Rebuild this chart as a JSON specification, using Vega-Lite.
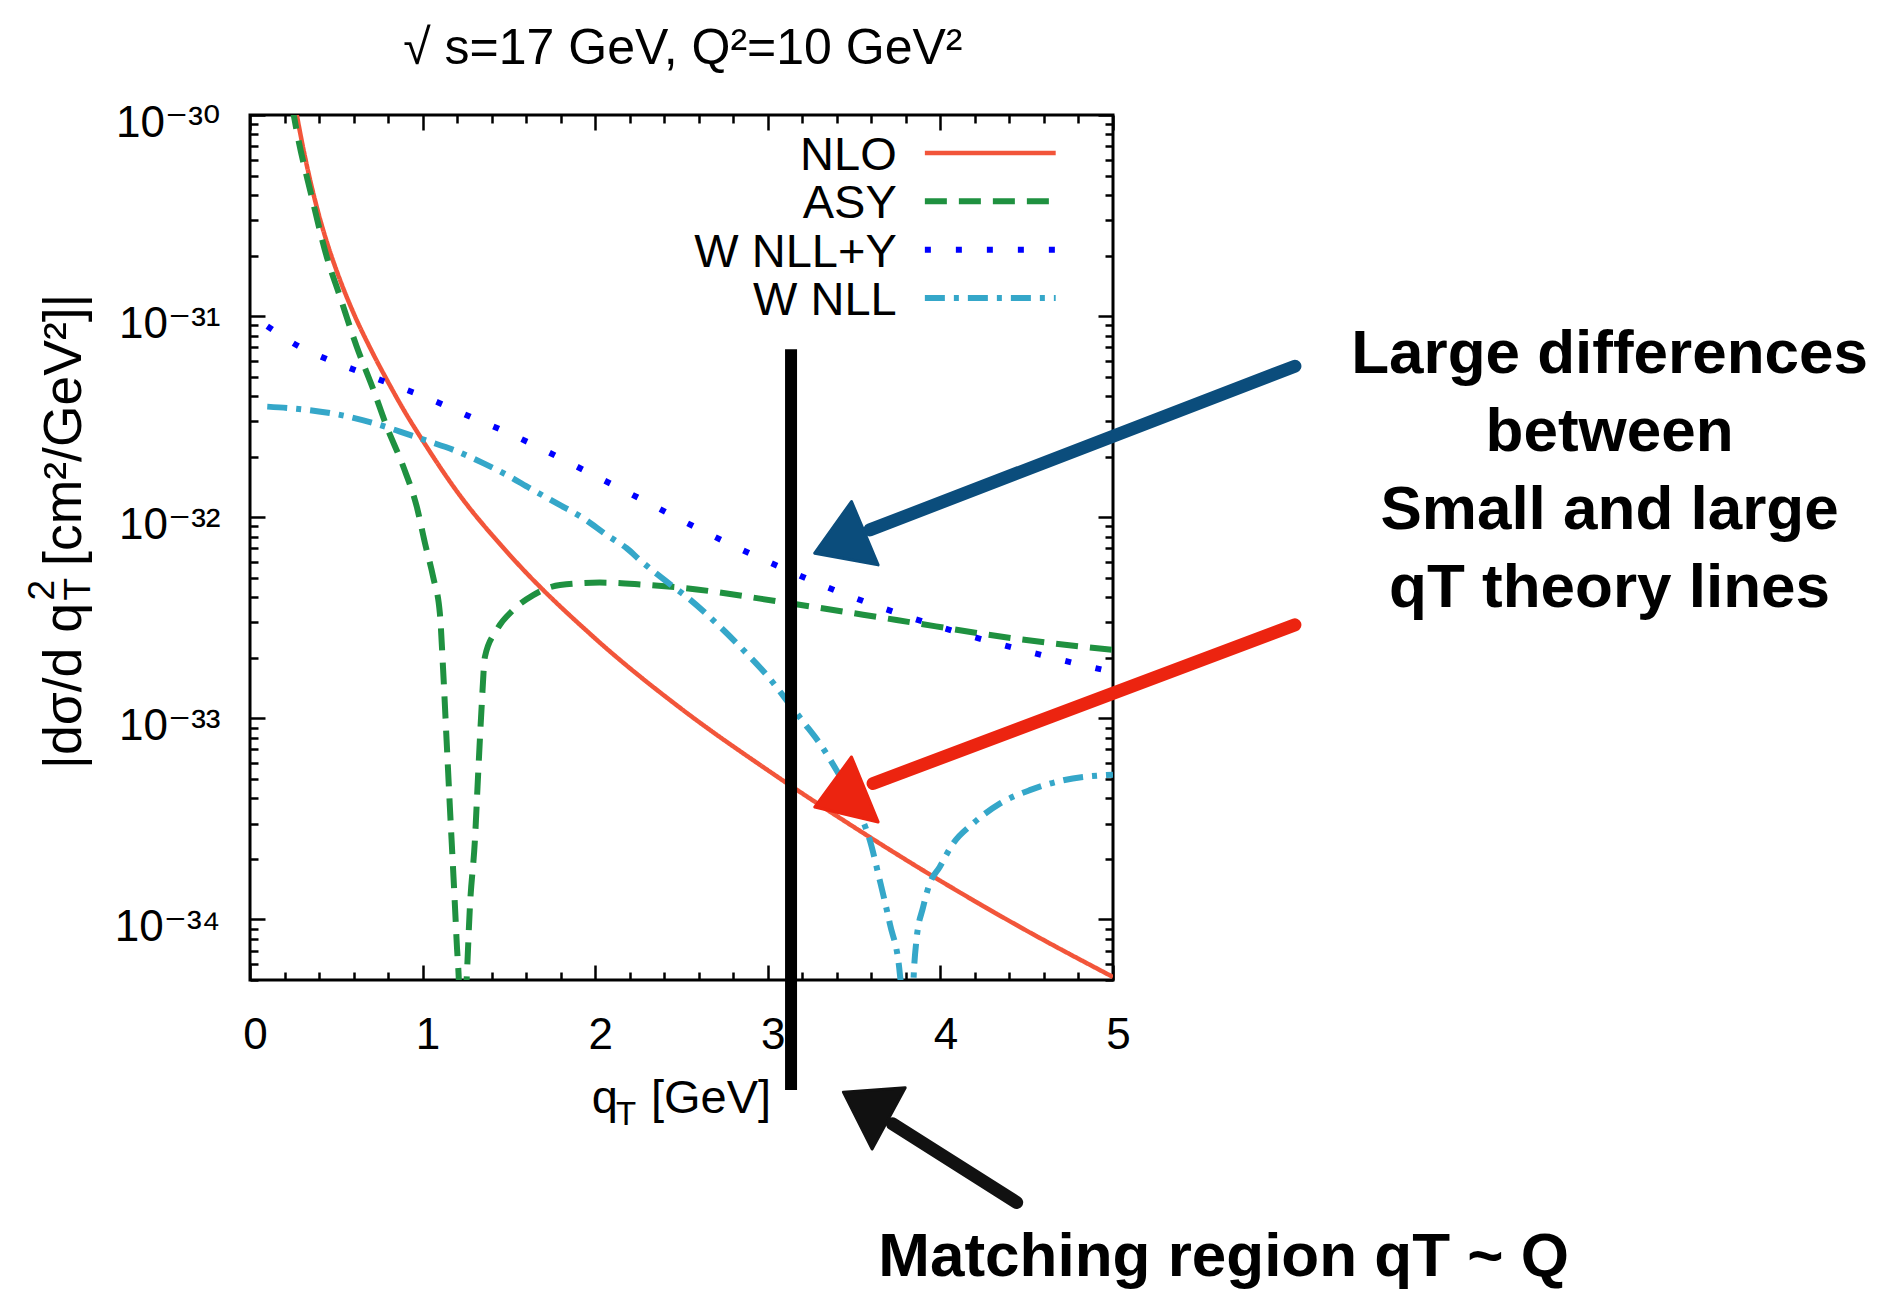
{
  "$schema": "https://vega.github.io/schema/vega-lite/v6.json",
  "width": 863,
  "height": 865,
  "autosize": {"type": "none"},
  "padding": {"left": 250, "top": 115, "right": 771, "bottom": 311},
  "background": "white",
  "config": {
    "view": {"stroke": "black", "strokeWidth": 3},
    "font": "Liberation Sans, DejaVu Sans",
    "axis": {
      "domain": false,
      "grid": false,
      "tickColor": "black",
      "tickWidth": 2.5,
      "labelFont": "Liberation Sans, DejaVu Sans",
      "labelFontSize": 44,
      "labelColor": "black",
      "labelOverlap": false,
      "labelFlush": false,
      "labelBound": false
    }
  },
  "datasets": {
    "curves": [
      {"series": "NLO", "qT": 0.25, "sigma": 1.259e-30},
      {"series": "NLO", "qT": 0.3, "sigma": 7.413e-31},
      {"series": "NLO", "qT": 0.35, "sigma": 4.677e-31},
      {"series": "NLO", "qT": 0.4, "sigma": 3.162e-31},
      {"series": "NLO", "qT": 0.45, "sigma": 2.265e-31},
      {"series": "NLO", "qT": 0.5, "sigma": 1.698e-31},
      {"series": "NLO", "qT": 0.6, "sigma": 1.035e-31},
      {"series": "NLO", "qT": 0.7, "sigma": 6.839e-32},
      {"series": "NLO", "qT": 0.8, "sigma": 4.699e-32},
      {"series": "NLO", "qT": 0.9, "sigma": 3.311e-32},
      {"series": "NLO", "qT": 1.0, "sigma": 2.41e-32},
      {"series": "NLO", "qT": 1.2, "sigma": 1.34e-32},
      {"series": "NLO", "qT": 1.5, "sigma": 6.561e-33},
      {"series": "NLO", "qT": 2.0, "sigma": 2.495e-33},
      {"series": "NLO", "qT": 2.5, "sigma": 1.114e-33},
      {"series": "NLO", "qT": 3.0, "sigma": 5.521e-34},
      {"series": "NLO", "qT": 3.5, "sigma": 2.877e-34},
      {"series": "NLO", "qT": 4.0, "sigma": 1.556e-34},
      {"series": "NLO", "qT": 4.5, "sigma": 8.79e-35},
      {"series": "NLO", "qT": 5.0, "sigma": 5.176e-35},

      {"series": "ASY", "qT": 0.245, "sigma": 1.096e-30},
      {"series": "ASY", "qT": 0.275, "sigma": 7.943e-31},
      {"series": "ASY", "qT": 0.357, "sigma": 3.945e-31},
      {"series": "ASY", "qT": 0.444, "sigma": 1.982e-31},
      {"series": "ASY", "qT": 0.521, "sigma": 1.253e-31},
      {"series": "ASY", "qT": 0.618, "sigma": 7.063e-32},
      {"series": "ASY", "qT": 0.715, "sigma": 4.305e-32},
      {"series": "ASY", "qT": 0.792, "sigma": 2.825e-32},
      {"series": "ASY", "qT": 0.888, "sigma": 1.786e-32},
      {"series": "ASY", "qT": 0.966, "sigma": 1.13e-32},
      {"series": "ASY", "qT": 1.014, "sigma": 7.413e-33},
      {"series": "ASY", "qT": 1.062, "sigma": 5.012e-33},
      {"series": "ASY", "qT": 1.1, "sigma": 3.327e-33},
      {"series": "ASY", "qT": 1.12, "sigma": 1.671e-33},
      {"series": "ASY", "qT": 1.139, "sigma": 7.78e-34},
      {"series": "ASY", "qT": 1.158, "sigma": 3.631e-34},
      {"series": "ASY", "qT": 1.178, "sigma": 1.69e-34},
      {"series": "ASY", "qT": 1.197, "sigma": 7.87e-35},
      {"series": "ASY", "qT": 1.215, "sigma": 3.548e-35},
      {"series": "ASY", "qT": 1.23, "sigma": 3.162e-36},
      {"series": "ASY", "qT": 1.245, "sigma": 3.548e-35},
      {"series": "ASY", "qT": 1.255, "sigma": 5.012e-35},
      {"series": "ASY", "qT": 1.274, "sigma": 1.153e-34},
      {"series": "ASY", "qT": 1.303, "sigma": 2.477e-34},
      {"series": "ASY", "qT": 1.322, "sigma": 5.321e-34},
      {"series": "ASY", "qT": 1.342, "sigma": 1.14e-33},
      {"series": "ASY", "qT": 1.361, "sigma": 2.023e-33},
      {"series": "ASY", "qT": 1.429, "sigma": 2.748e-33},
      {"series": "ASY", "qT": 1.525, "sigma": 3.459e-33},
      {"series": "ASY", "qT": 1.641, "sigma": 4.102e-33},
      {"series": "ASY", "qT": 1.796, "sigma": 4.603e-33},
      {"series": "ASY", "qT": 2.027, "sigma": 4.732e-33},
      {"series": "ASY", "qT": 2.259, "sigma": 4.634e-33},
      {"series": "ASY", "qT": 2.491, "sigma": 4.467e-33},
      {"series": "ASY", "qT": 3.128, "sigma": 3.733e-33},
      {"series": "ASY", "qT": 3.746, "sigma": 3.083e-33},
      {"series": "ASY", "qT": 4.421, "sigma": 2.5e-33},
      {"series": "ASY", "qT": 5.0, "sigma": 2.188e-33},

      {"series": "W NLL+Y", "qT": 0.1, "sigma": 8.913e-32},
      {"series": "W NLL+Y", "qT": 0.29, "sigma": 7.015e-32},
      {"series": "W NLL+Y", "qT": 0.454, "sigma": 6.067e-32},
      {"series": "W NLL+Y", "qT": 0.628, "sigma": 5.309e-32},
      {"series": "W NLL+Y", "qT": 0.792, "sigma": 4.677e-32},
      {"series": "W NLL+Y", "qT": 0.966, "sigma": 4.111e-32},
      {"series": "W NLL+Y", "qT": 1.129, "sigma": 3.597e-32},
      {"series": "W NLL+Y", "qT": 1.293, "sigma": 3.112e-32},
      {"series": "W NLL+Y", "qT": 1.467, "sigma": 2.692e-32},
      {"series": "W NLL+Y", "qT": 1.631, "sigma": 2.317e-32},
      {"series": "W NLL+Y", "qT": 1.79, "sigma": 1.982e-32},
      {"series": "W NLL+Y", "qT": 1.95, "sigma": 1.687e-32},
      {"series": "W NLL+Y", "qT": 2.114, "sigma": 1.432e-32},
      {"series": "W NLL+Y", "qT": 2.274, "sigma": 1.219e-32},
      {"series": "W NLL+Y", "qT": 2.433, "sigma": 1.035e-32},
      {"series": "W NLL+Y", "qT": 2.761, "sigma": 7.482e-33},
      {"series": "W NLL+Y", "qT": 3.089, "sigma": 5.572e-33},
      {"series": "W NLL+Y", "qT": 3.417, "sigma": 4.236e-33},
      {"series": "W NLL+Y", "qT": 3.755, "sigma": 3.327e-33},
      {"series": "W NLL+Y", "qT": 4.099, "sigma": 2.679e-33},
      {"series": "W NLL+Y", "qT": 4.45, "sigma": 2.213e-33},
      {"series": "W NLL+Y", "qT": 4.798, "sigma": 1.862e-33},
      {"series": "W NLL+Y", "qT": 5.0, "sigma": 1.698e-33},

      {"series": "W NLL", "qT": 0.1, "sigma": 3.548e-32},
      {"series": "W NLL", "qT": 0.328, "sigma": 3.42e-32},
      {"series": "W NLL", "qT": 0.521, "sigma": 3.228e-32},
      {"series": "W NLL", "qT": 0.715, "sigma": 2.938e-32},
      {"series": "W NLL", "qT": 0.869, "sigma": 2.667e-32},
      {"series": "W NLL", "qT": 1.023, "sigma": 2.404e-32},
      {"series": "W NLL", "qT": 1.178, "sigma": 2.163e-32},
      {"series": "W NLL", "qT": 1.351, "sigma": 1.858e-32},
      {"series": "W NLL", "qT": 1.486, "sigma": 1.626e-32},
      {"series": "W NLL", "qT": 1.622, "sigma": 1.393e-32},
      {"series": "W NLL", "qT": 1.776, "sigma": 1.175e-32},
      {"series": "W NLL", "qT": 1.931, "sigma": 9.886e-33},
      {"series": "W NLL", "qT": 2.066, "sigma": 8.166e-33},
      {"series": "W NLL", "qT": 2.182, "sigma": 7.015e-33},
      {"series": "W NLL", "qT": 2.259, "sigma": 6.124e-33},
      {"series": "W NLL", "qT": 2.452, "sigma": 4.519e-33},
      {"series": "W NLL", "qT": 2.529, "sigma": 4.027e-33},
      {"series": "W NLL", "qT": 2.703, "sigma": 2.965e-33},
      {"series": "W NLL", "qT": 2.877, "sigma": 2.104e-33},
      {"series": "W NLL", "qT": 3.002, "sigma": 1.611e-33},
      {"series": "W NLL", "qT": 3.108, "sigma": 1.233e-33},
      {"series": "W NLL", "qT": 3.205, "sigma": 9.616e-34},
      {"series": "W NLL", "qT": 3.301, "sigma": 7.499e-34},
      {"series": "W NLL", "qT": 3.398, "sigma": 5.521e-34},
      {"series": "W NLL", "qT": 3.514, "sigma": 3.631e-34},
      {"series": "W NLL", "qT": 3.591, "sigma": 2.477e-34},
      {"series": "W NLL", "qT": 3.649, "sigma": 1.563e-34},
      {"series": "W NLL", "qT": 3.707, "sigma": 9.528e-35},
      {"series": "W NLL", "qT": 3.765, "sigma": 5.37e-35},
      {"series": "W NLL", "qT": 3.79, "sigma": 2.818e-35},
      {"series": "W NLL", "qT": 3.815, "sigma": 3.162e-36},
      {"series": "W NLL", "qT": 3.84, "sigma": 3.981e-35},
      {"series": "W NLL", "qT": 3.861, "sigma": 7.87e-35},
      {"series": "W NLL", "qT": 3.9, "sigma": 1.153e-34},
      {"series": "W NLL", "qT": 3.938, "sigma": 1.507e-34},
      {"series": "W NLL", "qT": 3.996, "sigma": 1.824e-34},
      {"series": "W NLL", "qT": 4.073, "sigma": 2.382e-34},
      {"series": "W NLL", "qT": 4.189, "sigma": 2.999e-34},
      {"series": "W NLL", "qT": 4.344, "sigma": 3.767e-34},
      {"series": "W NLL", "qT": 4.518, "sigma": 4.395e-34},
      {"series": "W NLL", "qT": 4.711, "sigma": 4.92e-34},
      {"series": "W NLL", "qT": 5.0, "sigma": 5.248e-34}
    ],
    "shafts": [
      {"arrow": "upper", "k": 0, "qT": 6.054, "sigma": 5.636e-32},
      {"arrow": "upper", "k": 1, "qT": 3.591, "sigma": 8.65e-33},
      {"arrow": "lower", "k": 0, "qT": 6.054, "sigma": 2.917e-33},
      {"arrow": "lower", "k": 1, "qT": 3.61, "sigma": 4.742e-34},
      {"arrow": "matching", "k": 0, "qT": 4.442, "sigma": 3.917e-36},
      {"arrow": "matching", "k": 1, "qT": 3.722, "sigma": 9.638e-36}
    ],
    "heads": [
      {"arrow": "upper", "k": 0, "qT": 3.485, "sigma": 1.197e-32},
      {"arrow": "upper", "k": 1, "qT": 3.272, "sigma": 6.622e-33},
      {"arrow": "upper", "k": 2, "qT": 3.639, "sigma": 5.794e-33},
      {"arrow": "lower", "k": 0, "qT": 3.485, "sigma": 6.427e-34},
      {"arrow": "lower", "k": 1, "qT": 3.272, "sigma": 3.622e-34},
      {"arrow": "lower", "k": 2, "qT": 3.639, "sigma": 3.055e-34},
      {"arrow": "matching", "k": 0, "qT": 3.438, "sigma": 1.384e-35},
      {"arrow": "matching", "k": 1, "qT": 3.796, "sigma": 1.455e-35},
      {"arrow": "matching", "k": 2, "qT": 3.604, "sigma": 7.228e-36}
    ],
    "notes": [
      {"note": "Large differences\nbetween\nSmall and large\nqT theory lines", "qT": 7.877, "sigma": 5.215e-32},
      {"note": "Matching region qT ~ Q", "qT": 5.641, "sigma": 1.687e-36}
    ],
    "legend": [
      {"series": "NLO"},
      {"series": "ASY"},
      {"series": "W NLL+Y"},
      {"series": "W NLL"}
    ]
  },
  "resolve": {
    "scale": {"y": "independent"},
    "axis": {"x": "independent", "y": "independent"}
  },
  "layer": [
    {
      "resolve": {"axis": {"x": "independent", "y": "independent"}},
      "layer": [
        {
          "data": {"name": "curves"},
          "mark": {"type": "line", "clip": true, "interpolate": "monotone", "strokeCap": "butt"},
          "encoding": {
            "x": {
              "field": "qT", "type": "quantitative",
              "scale": {"domain": [0, 5], "nice": false, "zero": false},
              "axis": {
                "orient": "bottom", "title": null,
                "values": [0,0.2,0.4,0.6,0.8,1,1.2,1.4,1.6,1.8,2,2.2,2.4,2.6,2.8,3,3.2,3.4,3.6,3.8,4,4.2,4.4,4.6,4.8,5],
                "labelExpr": "abs(datum.value - round(datum.value)) < 0.001 ? '' + round(datum.value) : ''",
                "tickSize": {"condition": {"test": "abs(datum.value - round(datum.value)) < 0.001", "value": -15}, "value": -8},
                "labelPadding": 48,
                "labelOffset": 5
              }
            },
            "y": {
              "field": "sigma", "type": "quantitative",
              "scale": {"type": "log", "domain": [5e-35, 1e-30], "nice": false},
              "axis": {
                "orient": "left", "title": null,
                "values": [5e-35,6e-35,7e-35,8e-35,9e-35,1e-34,2e-34,3e-34,4e-34,5e-34,6e-34,7e-34,8e-34,9e-34,1e-33,2e-33,3e-33,4e-33,5e-33,6e-33,7e-33,8e-33,9e-33,1e-32,2e-32,3e-32,4e-32,5e-32,6e-32,7e-32,8e-32,9e-32,1e-31,2e-31,3e-31,4e-31,5e-31,6e-31,7e-31,8e-31,9e-31,1e-30],
                "labelExpr": "abs(log(datum.value)/LN10 + 30) < 0.001 ? '10⁻³⁰' : abs(log(datum.value)/LN10 + 31) < 0.001 ? '10⁻³¹' : abs(log(datum.value)/LN10 + 32) < 0.001 ? '10⁻³²' : abs(log(datum.value)/LN10 + 33) < 0.001 ? '10⁻³³' : abs(log(datum.value)/LN10 + 34) < 0.001 ? '10⁻³⁴' : ''",
                "tickSize": {"condition": {"test": "abs(log(datum.value)/LN10 - round(log(datum.value)/LN10)) < 0.001", "value": -15}, "value": -8},
                "labelPadding": 45,
                "labelOffset": 8,
                "labelBaseline": "middle"
              }
            },
            "color": {
              "field": "series", "type": "nominal",
              "scale": {"domain": ["NLO", "ASY", "W NLL+Y", "W NLL"], "range": ["#f2553a", "#1f9140", "#0000ff", "#35a7c9"]},
              "legend": null
            },
            "strokeDash": {
              "field": "series", "type": "nominal",
              "scale": {"domain": ["NLO", "ASY", "W NLL+Y", "W NLL"], "range": [[1, 0], [22, 12], [6, 25], [20, 9, 5, 9]]},
              "legend": null
            },
            "strokeWidth": {"condition": {"test": "datum.series === 'NLO'", "value": 4.5}, "value": 6}
          }
        },
        {
          "data": {"values": [{}]},
          "mark": {"type": "rule", "color": "black", "strokeWidth": 12, "strokeCap": "butt"},
          "encoding": {
            "x": {
              "datum": 3.1347, "type": "quantitative",
              "scale": {"domain": [0, 5], "nice": false, "zero": false},
              "axis": {
                "orient": "top", "title": null, "labels": false,
                "values": [0,0.2,0.4,0.6,0.8,1,1.2,1.4,1.6,1.8,2,2.2,2.4,2.6,2.8,3,3.2,3.4,3.6,3.8,4,4.2,4.4,4.6,4.8,5],
                "tickSize": {"condition": {"test": "abs(datum.value - round(datum.value)) < 0.001", "value": -15}, "value": -8}
              }
            },
            "y": {
              "datum": 6.839e-32, "type": "quantitative",
              "scale": {"type": "log", "domain": [5e-35, 1e-30], "nice": false},
              "axis": {
                "orient": "right", "title": null, "labels": false,
                "values": [5e-35,6e-35,7e-35,8e-35,9e-35,1e-34,2e-34,3e-34,4e-34,5e-34,6e-34,7e-34,8e-34,9e-34,1e-33,2e-33,3e-33,4e-33,5e-33,6e-33,7e-33,8e-33,9e-33,1e-32,2e-32,3e-32,4e-32,5e-32,6e-32,7e-32,8e-32,9e-32,1e-31,2e-31,3e-31,4e-31,5e-31,6e-31,7e-31,8e-31,9e-31,1e-30],
                "tickSize": {"condition": {"test": "abs(log(datum.value)/LN10 - round(log(datum.value)/LN10)) < 0.001", "value": -15}, "value": -8}
              }
            },
            "y2": {"datum": 1.419e-35}
          }
        },
        {
          "data": {"name": "shafts"},
          "mark": {"type": "line", "strokeWidth": 13, "strokeCap": "round"},
          "encoding": {
            "x": {"field": "qT", "type": "quantitative", "scale": {"domain": [0, 5], "nice": false, "zero": false}, "axis": null},
            "y": {"field": "sigma", "type": "quantitative", "scale": {"type": "log", "domain": [5e-35, 1e-30], "nice": false}, "axis": null},
            "order": {"field": "k"},
            "detail": {"field": "arrow"},
            "stroke": {"field": "arrow", "type": "nominal", "scale": {"domain": ["upper", "lower", "matching"], "range": ["#0b4d7c", "#ec2410", "#111111"]}, "legend": null}
          }
        },
        {
          "data": {"name": "heads"},
          "mark": {"type": "line", "interpolate": "linear-closed", "strokeWidth": 3, "strokeJoin": "round"},
          "encoding": {
            "x": {"field": "qT", "type": "quantitative", "scale": {"domain": [0, 5], "nice": false, "zero": false}, "axis": null},
            "y": {"field": "sigma", "type": "quantitative", "scale": {"type": "log", "domain": [5e-35, 1e-30], "nice": false}, "axis": null},
            "order": {"field": "k"},
            "detail": {"field": "arrow"},
            "stroke": {"field": "arrow", "type": "nominal", "scale": {"domain": ["upper", "lower", "matching"], "range": ["#0b4d7c", "#ec2410", "#111111"]}, "legend": null},
            "fill": {"field": "arrow", "type": "nominal", "scale": {"domain": ["upper", "lower", "matching"], "range": ["#0b4d7c", "#ec2410", "#111111"]}, "legend": null}
          }
        },
        {
          "data": {"name": "notes"},
          "mark": {"type": "text", "font": "Liberation Sans, DejaVu Sans", "fontWeight": "bold", "fontSize": 62, "align": "center", "baseline": "alphabetic", "lineBreak": "\n", "lineHeight": 78, "color": "black"},
          "encoding": {
            "x": {"field": "qT", "type": "quantitative", "scale": {"domain": [0, 5], "nice": false, "zero": false}, "axis": null},
            "y": {"field": "sigma", "type": "quantitative", "scale": {"type": "log", "domain": [5e-35, 1e-30], "nice": false}, "axis": null},
            "text": {"field": "note", "type": "nominal"}
          }
        },
        {
          "data": {"values": [{}]},
          "mark": {"type": "text", "text": "√ s=17 GeV, Q²=10 GeV²", "font": "Liberation Sans, DejaVu Sans", "fontSize": 50, "align": "center", "baseline": "alphabetic", "color": "black"},
          "encoding": {
            "x": {"datum": 2.508, "type": "quantitative", "scale": {"domain": [0, 5], "nice": false, "zero": false}, "axis": null},
            "y": {"datum": 1.793e-30, "type": "quantitative", "scale": {"type": "log", "domain": [5e-35, 1e-30], "nice": false}, "axis": null}
          }
        },
        {
          "data": {"values": [{}]},
          "mark": {"type": "text", "text": "q", "font": "Liberation Sans, DejaVu Sans", "fontSize": 47, "align": "right", "baseline": "alphabetic", "color": "black"},
          "encoding": {
            "x": {"datum": 2.131, "type": "quantitative", "scale": {"domain": [0, 5], "nice": false, "zero": false}, "axis": null},
            "y": {"datum": 1.091e-35, "type": "quantitative", "scale": {"type": "log", "domain": [5e-35, 1e-30], "nice": false}, "axis": null}
          }
        },
        {
          "data": {"values": [{}]},
          "mark": {"type": "text", "text": "T", "font": "Liberation Sans, DejaVu Sans", "fontSize": 33, "align": "left", "baseline": "alphabetic", "color": "black"},
          "encoding": {
            "x": {"datum": 2.12, "type": "quantitative", "scale": {"domain": [0, 5], "nice": false, "zero": false}, "axis": null},
            "y": {"datum": 9.508e-36, "type": "quantitative", "scale": {"type": "log", "domain": [5e-35, 1e-30], "nice": false}, "axis": null}
          }
        },
        {
          "data": {"values": [{}]},
          "mark": {"type": "text", "text": "[GeV]", "font": "Liberation Sans, DejaVu Sans", "fontSize": 47, "align": "left", "baseline": "alphabetic", "color": "black"},
          "encoding": {
            "x": {"datum": 2.3226, "type": "quantitative", "scale": {"domain": [0, 5], "nice": false, "zero": false}, "axis": null},
            "y": {"datum": 1.091e-35, "type": "quantitative", "scale": {"type": "log", "domain": [5e-35, 1e-30], "nice": false}, "axis": null}
          }
        },
        {
          "data": {"values": [{}]},
          "mark": {"type": "text", "text": "|dσ/d q", "angle": 270, "font": "Liberation Sans, DejaVu Sans", "fontSize": 53.5, "align": "left", "baseline": "alphabetic", "color": "black"},
          "encoding": {
            "x": {"datum": -0.9806, "type": "quantitative", "scale": {"domain": [0, 5], "nice": false, "zero": false}, "axis": null},
            "y": {"datum": 5.601e-34, "type": "quantitative", "scale": {"type": "log", "domain": [5e-35, 1e-30], "nice": false}, "axis": null}
          }
        },
        {
          "data": {"values": [{}]},
          "mark": {"type": "text", "text": "2", "angle": 270, "font": "Liberation Sans, DejaVu Sans", "fontSize": 37, "align": "left", "baseline": "alphabetic", "color": "black"},
          "encoding": {
            "x": {"datum": -1.1352, "type": "quantitative", "scale": {"domain": [0, 5], "nice": false, "zero": false}, "axis": null},
            "y": {"datum": 3.85e-33, "type": "quantitative", "scale": {"type": "log", "domain": [5e-35, 1e-30], "nice": false}, "axis": null}
          }
        },
        {
          "data": {"values": [{}]},
          "mark": {"type": "text", "text": "T", "angle": 270, "font": "Liberation Sans, DejaVu Sans", "fontSize": 37, "align": "left", "baseline": "alphabetic", "color": "black"},
          "encoding": {
            "x": {"datum": -0.9267, "type": "quantitative", "scale": {"domain": [0, 5], "nice": false, "zero": false}, "axis": null},
            "y": {"datum": 3.85e-33, "type": "quantitative", "scale": {"type": "log", "domain": [5e-35, 1e-30], "nice": false}, "axis": null}
          }
        },
        {
          "data": {"values": [{}]},
          "mark": {"type": "text", "text": "[cm²/GeV²]|", "angle": 270, "font": "Liberation Sans, DejaVu Sans", "fontSize": 53.5, "align": "left", "baseline": "alphabetic", "color": "black"},
          "encoding": {
            "x": {"datum": -0.9806, "type": "quantitative", "scale": {"domain": [0, 5], "nice": false, "zero": false}, "axis": null},
            "y": {"datum": 5.723e-33, "type": "quantitative", "scale": {"type": "log", "domain": [5e-35, 1e-30], "nice": false}, "axis": null}
          }
        }
      ]
    },
    {
      "data": {"name": "legend"},
      "layer": [
        {
          "mark": {"type": "rule", "strokeCap": "butt"},
          "encoding": {
            "x": {"datum": 3.91, "type": "quantitative", "scale": {"domain": [0, 5], "nice": false, "zero": false}, "axis": null},
            "x2": {"datum": 4.668},
            "y": {"field": "series", "type": "nominal", "sort": null, "scale": {"type": "point", "domain": ["NLO", "ASY", "W NLL+Y", "W NLL"], "range": [38, 183], "padding": 0}, "axis": null},
            "color": {"field": "series", "type": "nominal", "legend": null},
            "strokeDash": {"field": "series", "type": "nominal", "legend": null},
            "strokeWidth": {"condition": {"test": "datum.series === 'NLO'", "value": 4.5}, "value": 6}
          }
        },
        {
          "mark": {"type": "text", "font": "Liberation Sans, DejaVu Sans", "fontSize": 47, "align": "right", "baseline": "middle", "dy": 3, "color": "black"},
          "encoding": {
            "x": {"datum": 3.747, "type": "quantitative", "scale": {"domain": [0, 5], "nice": false, "zero": false}, "axis": null},
            "y": {"field": "series", "type": "nominal", "sort": null, "scale": {"type": "point", "domain": ["NLO", "ASY", "W NLL+Y", "W NLL"], "range": [38, 183], "padding": 0}, "axis": null},
            "text": {"field": "series", "type": "nominal"}
          }
        }
      ]
    }
  ]
}
